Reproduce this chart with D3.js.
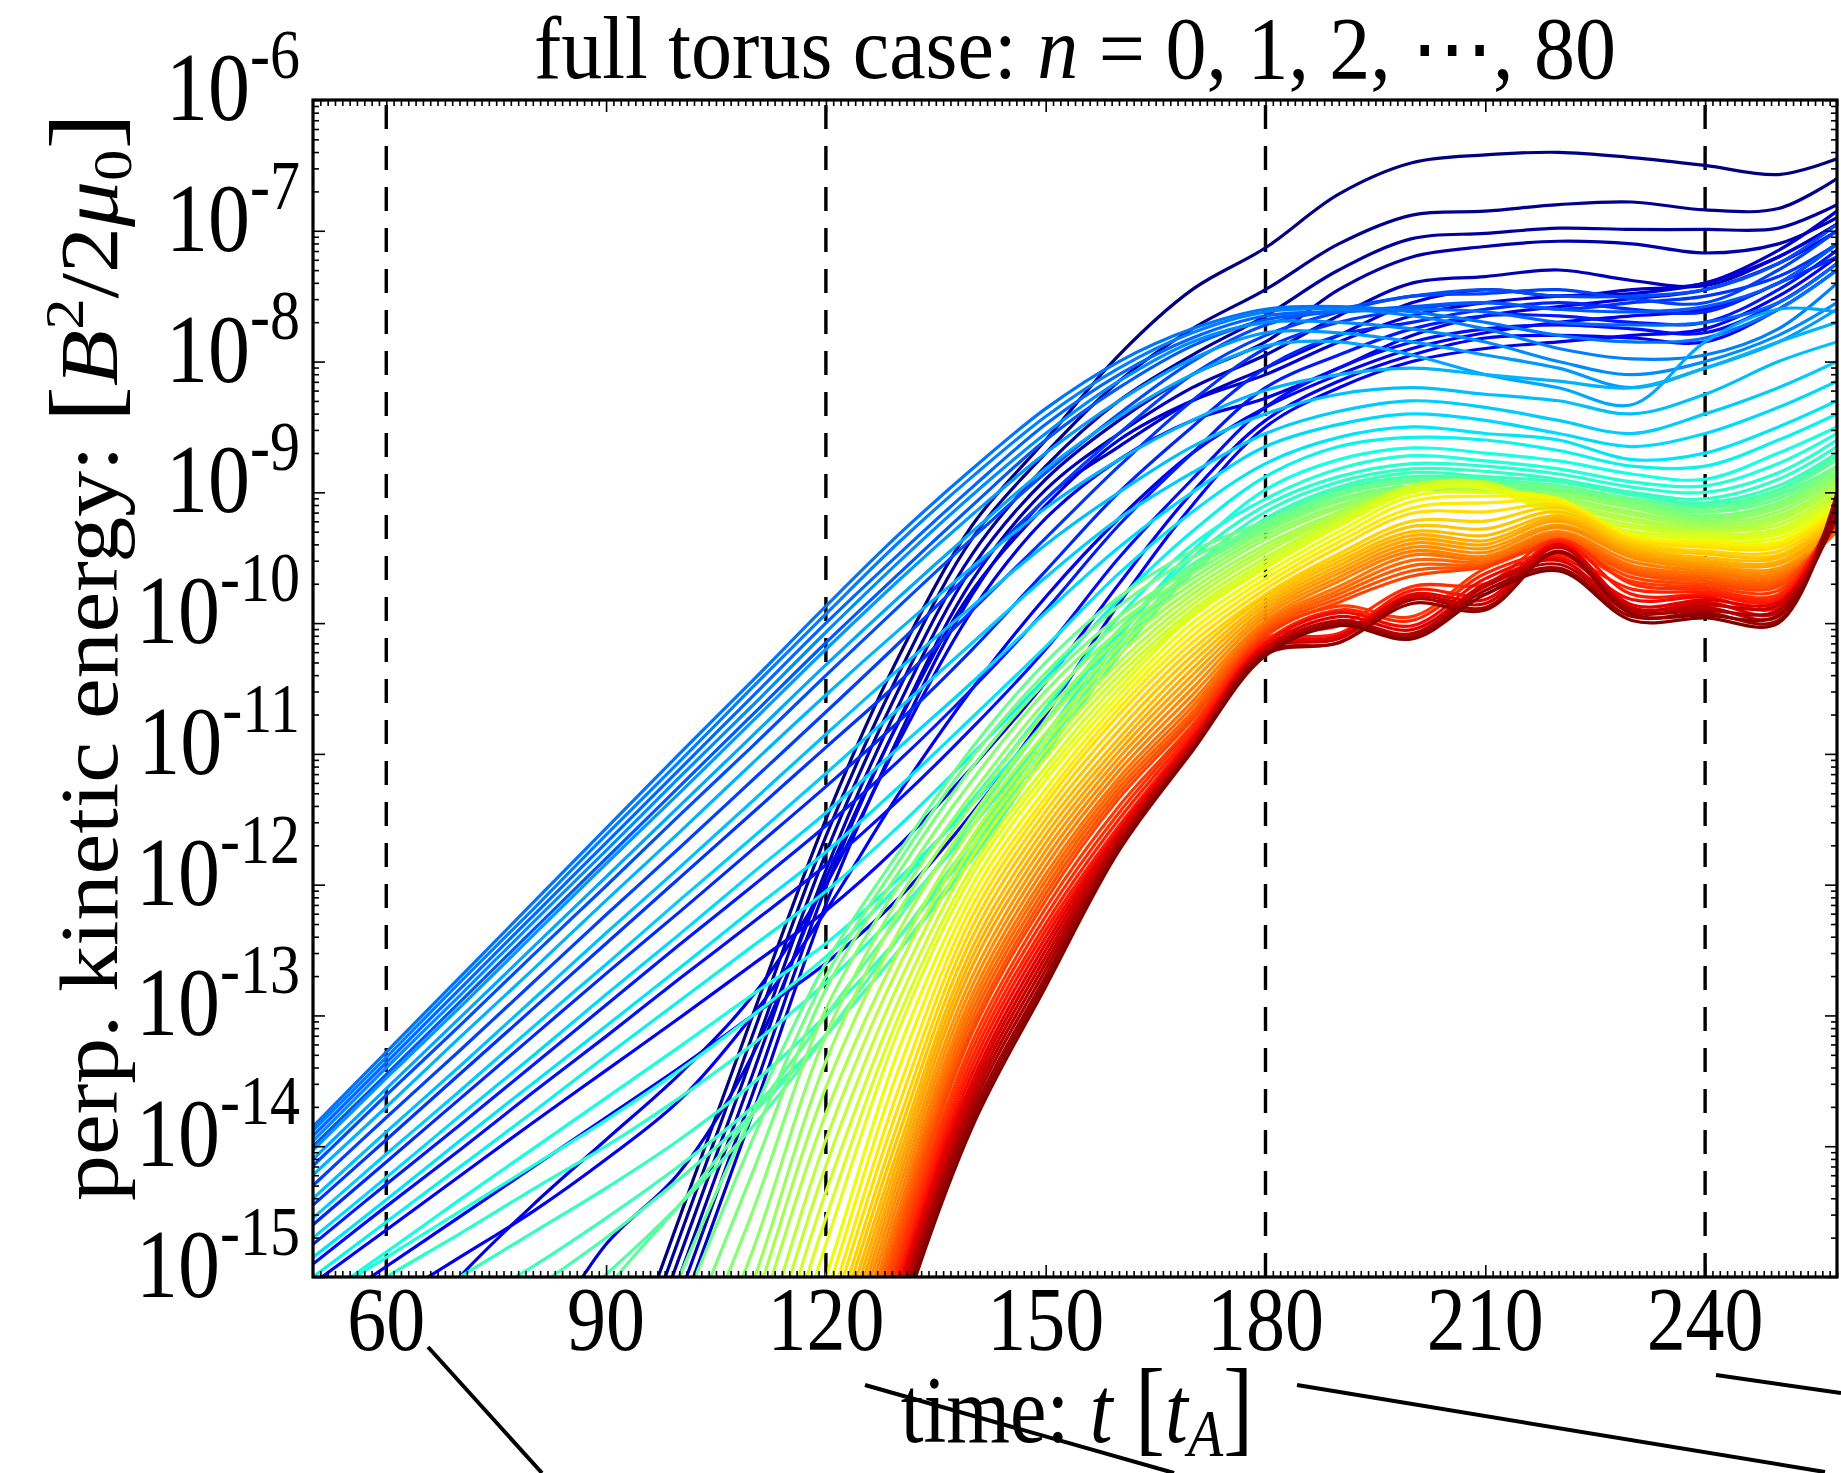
<!DOCTYPE html>
<html>
<head>
<meta charset="utf-8">
<script src="https://cdn.jsdelivr.net/npm/d3@7"></script>
<style>
  body { margin: 0; background: #fff; }
  text { font-family: "Liberation Serif", "Times New Roman", serif; fill: #000; }
</style>
</head>
<body>
<div id="chart"></div>
<script>
// sample times [t_A]; each mode below gives log10(energy) at these times (null = far below the axis)
var times = [50, 60, 70, 80, 90, 100, 110, 120, 130, 140, 150, 160, 170, 180, 190, 200, 210, 220, 230, 240, 250, 258];

// n = 0..7 : low-n modes, driven late, steep rise
var navyModes = [
  [null,null,null,-17.65,-16.1,-14.55,-13.0,-11.5,-10.25,-9.25,-8.6,-7.95,-7.45,-7.13,-6.72,-6.48,-6.42,-6.4,-6.44,-6.5,-6.57,-6.45],
  [null,null,null,-17.8,-16.25,-14.7,-13.15,-11.63,-10.38,-9.35,-8.7,-8.15,-7.75,-7.45,-7.1,-6.88,-6.85,-6.8,-6.78,-6.84,-6.83,-6.6],
  [null,null,null,-17.95,-16.4,-14.85,-13.3,-11.76,-10.5,-9.47,-8.8,-8.3,-7.95,-7.65,-7.3,-7.06,-7.02,-6.98,-6.99,-6.99,-6.98,-6.8],
  [null,null,null,-18.1,-16.55,-15.0,-13.45,-11.89,-10.62,-9.57,-8.9,-8.45,-8.1,-7.85,-7.45,-7.2,-7.12,-7.08,-7.1,-7.17,-7.1,-6.9],
  [null,null,null,-18.25,-16.7,-15.15,-13.6,-12.02,-10.74,-9.67,-8.98,-8.55,-8.2,-7.95,-7.65,-7.4,-7.35,-7.3,-7.38,-7.42,-7.2,-6.95],
  [null,null,null,-18.4,-16.85,-15.3,-13.75,-12.15,-10.86,-9.78,-9.05,-8.65,-8.3,-8.05,-7.8,-7.55,-7.45,-7.5,-7.45,-7.4,-7.15,-6.85],
  [null,-17.2,-16.4,-15.6,-14.75,-14.2,-13.3,-11.95,-10.75,-9.75,-9.1,-8.6,-8.3,-8.1,-7.85,-7.65,-7.55,-7.5,-7.48,-7.4,-7.2,-6.95],
  [-16.2,-15.65,-15.0,-14.45,-13.95,-13.45,-12.85,-12.0,-10.9,-9.9,-9.2,-8.75,-8.45,-8.28,-8.05,-7.8,-7.65,-7.58,-7.52,-7.45,-7.25,-7.0]
];

// n = 8..16
var blueModes = [
  [-15.55,-15.2,-14.85,-14.5,-14.1,-13.65,-13.0,-12.2,-11.3,-10.5,-9.8,-9.2,-8.7,-8.35,-8.1,-7.9,-7.78,-7.7,-7.65,-7.6,-7.4,-7.1],
  [-15.3,-14.92,-14.54,-14.16,-13.78,-13.4,-13.0,-12.6,-12.1,-11.45,-10.7,-9.85,-9.1,-8.5,-8.2,-8.0,-7.9,-7.85,-7.8,-7.75,-7.5,-7.2],
  [-15.05,-14.64,-14.23,-13.82,-13.42,-13.02,-12.61,-12.2,-11.7,-11.1,-10.45,-9.7,-9.0,-8.45,-8.15,-7.95,-7.82,-7.8,-7.82,-7.85,-7.6,-7.3],
  [-14.9,-14.46,-14.03,-13.59,-13.16,-12.72,-12.29,-11.85,-11.35,-10.8,-10.2,-9.5,-8.9,-8.35,-8.05,-7.85,-7.75,-7.72,-7.75,-7.78,-7.55,-7.25],
  [-14.75,-14.29,-13.84,-13.38,-12.92,-12.46,-12.01,-11.55,-11.05,-10.5,-9.9,-9.25,-8.7,-8.2,-7.95,-7.75,-7.65,-7.65,-7.7,-7.7,-7.45,-7.15],
  [-14.6,-14.12,-13.64,-13.16,-12.68,-12.21,-11.73,-11.25,-10.75,-10.2,-9.6,-9.0,-8.5,-8.05,-7.8,-7.7,-7.6,-7.55,-7.6,-7.62,-7.4,-7.2],
  [-14.45,-13.95,-13.45,-12.95,-12.45,-11.95,-11.45,-10.95,-10.45,-9.9,-9.35,-8.8,-8.3,-7.9,-7.7,-7.6,-7.55,-7.6,-7.55,-7.5,-7.35,-7.1],
  [-14.3,-13.78,-13.27,-12.75,-12.23,-11.72,-11.2,-10.68,-10.15,-9.6,-9.05,-8.55,-8.1,-7.8,-7.62,-7.5,-7.48,-7.45,-7.52,-7.55,-7.3,-7.0],
  [-14.15,-13.61,-13.08,-12.54,-12.01,-11.47,-10.94,-10.4,-9.87,-9.35,-8.85,-8.4,-8.0,-7.72,-7.6,-7.5,-7.45,-7.5,-7.5,-7.45,-7.25,-6.95]
];

// n = 17..23 : fastest linear growth
var azureModes = [
  [-14.0,-13.45,-12.9,-12.35,-11.8,-11.25,-10.7,-10.15,-9.62,-9.1,-8.6,-8.2,-7.88,-7.68,-7.62,-7.58,-7.55,-7.6,-7.62,-7.58,-7.4,-7.1],
  [-13.92,-13.36,-12.8,-12.24,-11.68,-11.12,-10.56,-10.0,-9.47,-8.96,-8.48,-8.1,-7.82,-7.65,-7.62,-7.6,-7.62,-7.7,-7.72,-7.7,-7.55,-7.25],
  [-13.85,-13.28,-12.71,-12.14,-11.57,-11.0,-10.44,-9.87,-9.32,-8.82,-8.36,-8.0,-7.75,-7.6,-7.58,-7.62,-7.7,-7.8,-7.85,-7.82,-7.6,-7.3],
  [-13.88,-13.32,-12.75,-12.19,-11.62,-11.06,-10.49,-9.93,-9.38,-8.88,-8.42,-8.05,-7.78,-7.62,-7.6,-7.65,-7.75,-7.9,-7.98,-7.95,-7.75,-7.4],
  [-13.96,-13.4,-12.85,-12.29,-11.74,-11.18,-10.63,-10.07,-9.53,-9.02,-8.55,-8.15,-7.85,-7.7,-7.7,-7.75,-7.85,-8.0,-8.1,-8.0,-7.8,-7.55],
  [-14.03,-13.48,-12.94,-12.39,-11.84,-11.3,-10.75,-10.2,-9.67,-9.17,-8.7,-8.3,-7.98,-7.78,-7.78,-7.85,-7.95,-8.05,-8.2,-8.05,-7.85,-7.6],
  [-14.1,-13.56,-13.02,-12.48,-11.94,-11.4,-10.86,-10.32,-9.8,-9.3,-8.82,-8.42,-8.1,-7.88,-7.85,-7.95,-8.1,-8.2,-8.33,-7.85,-7.6,-7.62]
];

// n = 24..37
var cyanModes = [
  [-14.22,-13.7,-13.17,-12.65,-12.12,-11.6,-11.07,-10.55,-10.05,-9.57,-9.12,-8.75,-8.45,-8.22,-8.1,-8.05,-8.1,-8.15,-8.2,-8.05,-7.85,-7.7],
  [-14.4,-13.89,-13.39,-12.88,-12.37,-11.87,-11.36,-10.85,-10.35,-9.87,-9.4,-9.0,-8.65,-8.4,-8.25,-8.2,-8.25,-8.3,-8.4,-8.25,-8.0,-7.85],
  [-14.55,-14.06,-13.58,-13.09,-12.61,-12.12,-11.64,-11.15,-10.65,-10.15,-9.65,-9.2,-8.85,-8.55,-8.38,-8.3,-8.35,-8.45,-8.55,-8.4,-8.2,-8.0],
  [-14.7,-14.24,-13.77,-13.31,-12.84,-12.38,-11.91,-11.45,-10.95,-10.45,-9.92,-9.42,-9.0,-8.65,-8.48,-8.4,-8.45,-8.55,-8.65,-8.55,-8.35,-8.15],
  [-14.85,-14.41,-13.96,-13.52,-13.08,-12.64,-12.19,-11.75,-11.25,-10.72,-10.18,-9.62,-9.15,-8.78,-8.58,-8.5,-8.55,-8.6,-8.75,-8.7,-8.5,-8.3],
  [-15.0,-14.58,-14.16,-13.74,-13.31,-12.89,-12.47,-12.05,-11.55,-11.0,-10.42,-9.82,-9.3,-8.88,-8.65,-8.58,-8.6,-8.68,-8.8,-8.8,-8.6,-8.4],
  [-15.2,-14.81,-14.41,-14.02,-13.63,-13.24,-12.84,-12.45,-11.95,-11.38,-10.75,-10.08,-9.45,-8.98,-8.75,-8.66,-8.7,-8.76,-8.86,-8.9,-8.7,-8.5],
  [-15.2,-14.85,-14.5,-14.15,-13.8,-13.42,-13.0,-12.55,-12.0,-11.35,-10.65,-9.95,-9.4,-9.05,-8.82,-8.72,-8.76,-8.82,-8.92,-8.95,-8.78,-8.55],
  [-15.35,-15.0,-14.67,-14.33,-14.0,-13.63,-13.22,-12.75,-12.2,-11.55,-10.85,-10.1,-9.5,-9.1,-8.88,-8.78,-8.8,-8.86,-8.96,-9.0,-8.85,-8.6],
  [-15.65,-15.32,-15.0,-14.66,-14.32,-13.95,-13.52,-13.0,-12.4,-11.7,-10.95,-10.2,-9.58,-9.15,-8.92,-8.82,-8.84,-8.9,-9.0,-9.05,-8.9,-8.65],
  [-15.95,-15.6,-15.25,-14.92,-14.55,-14.15,-13.7,-13.15,-12.5,-11.8,-11.0,-10.25,-9.62,-9.2,-8.96,-8.85,-8.88,-8.92,-9.02,-9.08,-8.95,-8.7],
  [-16.2,-15.85,-15.5,-15.1,-14.7,-14.25,-13.75,-13.15,-12.5,-11.75,-10.95,-10.2,-9.6,-9.22,-8.98,-8.88,-8.9,-8.95,-9.05,-9.1,-8.98,-8.72],
  [-16.8,-16.4,-15.95,-15.45,-14.98,-14.45,-13.85,-13.15,-12.4,-11.65,-10.9,-10.15,-9.58,-9.24,-9.0,-8.9,-8.93,-8.98,-9.06,-9.12,-9.0,-8.75],
  [null,null,-16.6,-16.0,-15.1,-14.45,-13.75,-13.0,-12.25,-11.5,-10.75,-10.05,-9.55,-9.26,-9.02,-8.92,-8.95,-9.0,-9.08,-9.15,-9.02,-8.8]
];

// n = 38..50
var greenModes = [
  [null,null,null,-17.8,-16.4,-15.0,-13.75,-12.6,-11.75,-10.95,-10.3,-9.8,-9.45,-9.22,-9.0,-8.9,-8.92,-8.95,-9.05,-9.12,-9.0,-8.75],
  [null,null,null,-18.1,-16.7,-15.3,-13.95,-12.7,-11.82,-11.02,-10.38,-9.87,-9.5,-9.25,-9.02,-8.92,-8.95,-8.97,-9.06,-9.15,-9.05,-8.8],
  [null,null,null,null,-17.0,-15.6,-14.2,-12.8,-11.9,-11.1,-10.45,-9.95,-9.58,-9.28,-9.05,-8.95,-8.98,-9.0,-9.08,-9.18,-9.08,-8.82],
  [null,null,null,null,-17.3,-15.9,-14.5,-12.95,-12.0,-11.2,-10.52,-10.0,-9.62,-9.3,-9.07,-8.97,-9.0,-9.0,-9.1,-9.2,-9.1,-8.85],
  [null,null,null,null,-17.6,-16.2,-14.8,-13.15,-12.1,-11.3,-10.6,-10.06,-9.66,-9.33,-9.1,-8.98,-9.0,-9.02,-9.12,-9.22,-9.12,-8.88],
  [null,null,null,null,-17.9,-16.5,-15.05,-13.35,-12.2,-11.38,-10.68,-10.12,-9.7,-9.36,-9.12,-8.98,-8.98,-9.04,-9.15,-9.24,-9.15,-8.9],
  [null,null,null,null,null,-16.8,-15.25,-13.55,-12.35,-11.47,-10.76,-10.18,-9.74,-9.4,-9.15,-8.97,-8.96,-9.06,-9.17,-9.26,-9.18,-8.93],
  [null,null,null,null,null,-17.0,-15.45,-13.75,-12.5,-11.55,-10.84,-10.24,-9.78,-9.43,-9.17,-8.96,-8.94,-9.08,-9.2,-9.28,-9.2,-8.95],
  [null,null,null,null,null,-17.2,-15.7,-13.95,-12.62,-11.63,-10.9,-10.3,-9.82,-9.46,-9.18,-8.95,-8.93,-9.1,-9.22,-9.3,-9.22,-8.97],
  [null,null,null,null,null,-17.4,-15.9,-14.15,-12.75,-11.7,-10.97,-10.35,-9.86,-9.5,-9.2,-8.95,-8.92,-9.12,-9.25,-9.3,-9.25,-9.0],
  [null,null,null,null,null,-17.6,-16.1,-14.35,-12.88,-11.78,-11.03,-10.4,-9.9,-9.53,-9.22,-8.96,-8.93,-9.15,-9.27,-9.32,-9.28,-9.02],
  [null,null,null,null,null,-17.8,-16.3,-14.55,-13.0,-11.86,-11.1,-10.45,-9.93,-9.56,-9.24,-8.98,-8.95,-9.16,-9.3,-9.33,-9.3,-9.05],
  [null,null,null,null,null,-18.0,-16.5,-14.75,-13.1,-11.92,-11.15,-10.5,-9.95,-9.58,-9.26,-9.0,-8.97,-9.18,-9.32,-9.35,-9.32,-9.08]
];

// n = 51..67
var orangeModes = [
  [null,null,null,null,null,null,-16.65,-15.0,-13.25,-12.0,-11.2,-10.55,-10.0,-9.62,-9.3,-9.03,-9.0,-9.05,-9.34,-9.37,-9.35,-9.1],
  [null,null,null,null,null,null,-16.8,-15.15,-13.4,-12.08,-11.27,-10.6,-10.05,-9.66,-9.34,-9.07,-9.03,-9.06,-9.33,-9.38,-9.38,-9.12],
  [null,null,null,null,null,null,-16.95,-15.3,-13.55,-12.16,-11.33,-10.65,-10.1,-9.7,-9.38,-9.12,-9.08,-9.08,-9.35,-9.4,-9.4,-9.14],
  [null,null,null,null,null,null,-17.1,-15.42,-13.68,-12.24,-11.38,-10.7,-10.15,-9.74,-9.42,-9.16,-9.15,-9.1,-9.36,-9.42,-9.42,-9.16],
  [null,null,null,null,null,null,-17.25,-15.55,-13.8,-12.32,-11.44,-10.76,-10.2,-9.78,-9.47,-9.22,-9.22,-9.12,-9.38,-9.45,-9.45,-9.18],
  [null,null,null,null,null,null,-17.4,-15.65,-13.9,-12.4,-11.5,-10.82,-10.25,-9.8,-9.5,-9.26,-9.28,-9.15,-9.4,-9.47,-9.48,-9.2],
  [null,null,null,null,null,null,-17.5,-15.75,-14.0,-12.48,-11.56,-10.88,-10.3,-9.83,-9.53,-9.3,-9.33,-9.18,-9.42,-9.5,-9.5,-9.22],
  [null,null,null,null,null,null,-17.6,-15.85,-14.08,-12.55,-11.62,-10.93,-10.35,-9.86,-9.56,-9.33,-9.37,-9.2,-9.44,-9.52,-9.53,-9.24],
  [null,null,null,null,null,null,-17.7,-15.95,-14.16,-12.62,-11.68,-10.98,-10.4,-9.89,-9.59,-9.36,-9.4,-9.22,-9.46,-9.54,-9.55,-9.26],
  [null,null,null,null,null,null,-17.8,-16.05,-14.24,-12.7,-11.74,-11.03,-10.45,-9.92,-9.62,-9.39,-9.43,-9.25,-9.48,-9.56,-9.58,-9.28],
  [null,null,null,null,null,null,-17.9,-16.15,-14.32,-12.77,-11.8,-11.08,-10.5,-9.95,-9.65,-9.42,-9.46,-9.27,-9.5,-9.58,-9.6,-9.3],
  [null,null,null,null,null,null,-18.0,-16.25,-14.4,-12.84,-11.86,-11.13,-10.55,-9.98,-9.68,-9.45,-9.49,-9.3,-9.53,-9.6,-9.62,-9.3],
  [null,null,null,null,null,null,-18.1,-16.35,-14.48,-12.9,-11.92,-11.18,-10.6,-10.0,-9.72,-9.48,-9.51,-9.32,-9.56,-9.62,-9.64,-9.3],
  [null,null,null,null,null,null,-18.2,-16.45,-14.55,-12.96,-11.97,-11.22,-10.64,-10.02,-9.75,-9.52,-9.53,-9.34,-9.58,-9.64,-9.66,-9.28],
  [null,null,null,null,null,null,-18.3,-16.55,-14.62,-13.02,-12.02,-11.26,-10.68,-10.04,-9.78,-9.56,-9.55,-9.36,-9.6,-9.66,-9.68,-9.26],
  [null,null,null,null,null,null,-18.38,-16.62,-14.68,-13.08,-12.07,-11.3,-10.71,-10.06,-9.81,-9.6,-9.56,-9.38,-9.62,-9.68,-9.7,-9.24],
  [null,null,null,null,null,null,-18.45,-16.7,-14.75,-13.13,-12.12,-11.34,-10.74,-10.08,-9.84,-9.64,-9.57,-9.4,-9.65,-9.7,-9.72,-9.22]
];

// n = 68..80
var redModes = [
  [null,null,null,null,null,null,-18.5,-16.78,-14.82,-13.2,-12.18,-11.4,-10.78,-10.1,-9.87,-9.95,-9.58,-9.42,-9.68,-9.72,-9.75,-9.2],
  [null,null,null,null,null,null,-18.56,-16.84,-14.88,-13.26,-12.24,-11.45,-10.8,-10.12,-10.02,-9.72,-9.7,-9.36,-9.7,-9.74,-9.78,-9.15],
  [null,null,null,null,null,null,-18.62,-16.9,-14.95,-13.32,-12.3,-11.5,-10.83,-10.14,-9.9,-9.98,-9.62,-9.48,-9.74,-9.76,-9.8,-9.12],
  [null,null,null,null,null,null,-18.68,-16.96,-15.0,-13.38,-12.35,-11.55,-10.86,-10.15,-10.08,-9.75,-9.78,-9.38,-9.78,-9.78,-9.82,-9.1],
  [null,null,null,null,null,null,-18.74,-17.02,-15.05,-13.44,-12.4,-11.58,-10.88,-10.16,-9.92,-10.02,-9.66,-9.5,-9.82,-9.8,-9.88,-9.08],
  [null,null,null,null,null,null,-18.8,-17.08,-15.1,-13.5,-12.45,-11.6,-10.9,-10.18,-10.1,-9.78,-9.82,-9.4,-9.86,-9.82,-9.84,-9.15],
  [null,null,null,null,null,null,-18.84,-17.12,-15.14,-13.55,-12.5,-11.62,-10.92,-10.19,-9.95,-10.05,-9.7,-9.52,-9.9,-9.84,-9.92,-9.05],
  [null,null,null,null,null,null,-18.88,-17.16,-15.18,-13.6,-12.55,-11.64,-10.93,-10.2,-10.12,-9.8,-9.85,-9.42,-9.88,-9.86,-9.86,-9.2],
  [null,null,null,null,null,null,-18.92,-17.2,-15.22,-13.65,-12.6,-11.66,-10.94,-10.21,-9.98,-10.08,-9.72,-9.55,-9.92,-9.88,-9.95,-9.02],
  [null,null,null,null,null,null,-18.96,-17.24,-15.26,-13.7,-12.65,-11.68,-10.95,-10.22,-10.15,-9.82,-9.88,-9.45,-9.9,-9.9,-9.9,-9.18],
  [null,null,null,null,null,null,-19.0,-17.28,-15.3,-13.75,-12.7,-11.7,-10.96,-10.23,-10.0,-10.1,-9.75,-9.58,-9.95,-9.92,-9.98,-9.0],
  [null,null,null,null,null,null,-19.04,-17.32,-15.34,-13.8,-12.74,-11.72,-10.97,-10.24,-10.15,-9.85,-9.9,-9.46,-9.93,-9.94,-9.94,-9.15],
  [null,null,null,null,null,null,-19.08,-17.36,-15.38,-13.85,-12.78,-11.74,-10.98,-10.25,-10.02,-10.12,-9.78,-9.6,-9.98,-9.96,-10.0,-9.05]
];

var xTicks = [60, 90, 120, 150, 180, 210, 240];
var yDecades = [-15, -14, -13, -12, -11, -10, -9, -8, -7, -6];
var markerTimes = [60, 120, 180, 240];
// zoom-connector strokes that run across the bottom of the figure (page pixels)
var connectorLines = [[428, 1347, 542, 1473], [865, 1385, 1174, 1473], [1297, 1385, 1825, 1472], [1716, 1375, 1841, 1393]];

var allModes = [].concat(navyModes, blueModes, azureModes, cyanModes, greenModes, orangeModes, redModes);

var margin = { top: 100, right: 4, bottom: 196, left: 313 },
    width = 1841 - margin.left - margin.right,
    height = 1473 - margin.top - margin.bottom,
    stretch = 1.17;   // the source figure is taller than it is wide

var x = d3.scaleLinear().domain([50, 258]).range([0, width]);
var y = d3.scaleLog().domain([1e-15, 1e-6]).range([height, 0]);

// matplotlib "jet"
var jetR = d3.scaleLinear().domain([0, 0.35, 0.66, 0.89, 1]).range([0, 0, 1, 1, 0.5]).clamp(true);
var jetG = d3.scaleLinear().domain([0, 0.125, 0.375, 0.64, 0.91, 1]).range([0, 0, 1, 1, 0, 0]).clamp(true);
var jetB = d3.scaleLinear().domain([0, 0.11, 0.34, 0.65, 1]).range([0.5, 1, 1, 0, 0]).clamp(true);
function jet(f) { return d3.rgb(255 * jetR(f), 255 * jetG(f), 255 * jetB(f)).toString(); }

var svg = d3.select("#chart").append("svg")
    .attr("width", 1841)
    .attr("height", 1473)
    .style("display", "block");

var g = svg.append("g").attr("transform", "translate(" + margin.left + "," + margin.top + ")");

g.append("clipPath").attr("id", "plot-clip")
  .append("rect").attr("width", width).attr("height", height);

// dashed time markers
g.selectAll(".marker").data(markerTimes).enter().append("line")
    .attr("class", "marker")
    .attr("x1", function(d) { return x(d); })
    .attr("x2", function(d) { return x(d); })
    .attr("y1", height).attr("y2", 0)
    .attr("stroke", "#000").attr("stroke-width", 3.4)
    .attr("stroke-dasharray", "24,17");

var line = d3.line()
    .defined(function(d) { return d != null; })
    .x(function(d, i) { return x(times[i]); })
    .y(function(d) { return y(Math.pow(10, d)); })
    .curve(d3.curveCatmullRom.alpha(0.5));

g.append("g").attr("clip-path", "url(#plot-clip)")
  .selectAll("path").data(allModes).enter().append("path")
    .attr("d", line)
    .attr("fill", "none")
    .attr("stroke", function(d, i) { return jet(i / 80); })
    .attr("stroke-width", 3.2)
    .attr("stroke-linejoin", "round");

function tidy(sel) {
  sel.select(".domain").remove();
  sel.attr("font-family", null).attr("font-size", null);
  sel.selectAll("line").attr("stroke-width", 1.6);
}

var minorX = d3.range(51, 259).filter(function(t) { return t % 30 !== 0; });
g.append("g").attr("transform", "translate(0," + height + ")")
  .call(d3.axisBottom(x).tickValues(minorX).tickSize(-6).tickFormat("")).call(tidy);
g.append("g")
  .call(d3.axisTop(x).tickValues(minorX).tickSize(-6).tickFormat("")).call(tidy);
g.append("g")
  .call(d3.axisTop(x).tickValues(xTicks).tickSize(-12).tickFormat("")).call(tidy);
g.append("g").attr("transform", "translate(0," + height + ")")
  .call(d3.axisBottom(x).tickValues(xTicks).tickSize(-12).tickFormat("")).call(tidy);

g.append("g").selectAll("text").data(xTicks).enter().append("text")
    .attr("transform", function(d) { return "translate(" + x(d) + "," + (height + 73) + ") scale(1," + stretch + ")"; })
    .attr("text-anchor", "middle")
    .attr("font-size", 78)
    .text(function(d) { return d; });

var minorY = [];
yDecades.forEach(function(k) {
  if (k < -6) for (var m = 2; m <= 9; m++) minorY.push(m * Math.pow(10, k));
});
var majorY = yDecades.map(function(k) { return Math.pow(10, k); });
g.append("g").call(d3.axisLeft(y).tickValues(minorY).tickSize(-6).tickFormat("")).call(tidy);
g.append("g").attr("transform", "translate(" + width + ",0)")
  .call(d3.axisRight(y).tickValues(minorY).tickSize(-6).tickFormat("")).call(tidy);
g.append("g").call(d3.axisLeft(y).tickValues(majorY).tickSize(-12).tickFormat("")).call(tidy);
g.append("g").attr("transform", "translate(" + width + ",0)")
  .call(d3.axisRight(y).tickValues(majorY).tickSize(-12).tickFormat("")).call(tidy);

var yLabels = g.append("g").selectAll("text").data(yDecades).enter().append("text")
    .attr("transform", function(d) { return "translate(-13," + (y(Math.pow(10, d)) + 20) + ") scale(1," + stretch + ")"; })
    .attr("text-anchor", "end");
yLabels.append("tspan").attr("font-size", 84).text("10");
yLabels.append("tspan").attr("font-size", 60).attr("dy", -36).text(function(d) { return "-" + (-d); });

g.append("rect")
    .attr("width", width).attr("height", height)
    .attr("fill", "none").attr("stroke", "#000").attr("stroke-width", 3.2);

// title
var title = svg.append("text")
    .attr("transform", "translate(" + (margin.left + width / 2) + ",78) scale(1,1.08)")
    .attr("text-anchor", "middle").attr("font-size", 82);
title.append("tspan").text("full torus case: ");
title.append("tspan").attr("font-style", "italic").text("n");
title.append("tspan").text(" = 0, 1, 2, \u22EF, 80");

// axis labels
var xLabel = svg.append("text")
    .attr("transform", "translate(" + (margin.left + width / 2 + 2) + ",1442) scale(1," + stretch + ")")
    .attr("text-anchor", "middle").attr("font-size", 82);
xLabel.append("tspan").text("time: ");
xLabel.append("tspan").attr("font-style", "italic").text("t");
xLabel.append("tspan").attr("font-size", 90).text(" [");
xLabel.append("tspan").attr("font-style", "italic").text("t");
xLabel.append("tspan").attr("font-style", "italic").attr("font-size", 58).attr("dy", 12).text("A");
xLabel.append("tspan").attr("font-size", 90).attr("dy", -12).text("]");

var yLabel = svg.append("text")
    .attr("transform", "translate(117,657) rotate(-90) scale(1.12,1)")
    .attr("text-anchor", "middle").attr("font-size", 82);
yLabel.append("tspan").text("perp. kinetic energy: ");
yLabel.append("tspan").attr("font-size", 98).text("[");
yLabel.append("tspan").attr("font-style", "italic").text("B");
yLabel.append("tspan").attr("font-size", 56).attr("dy", -34).text("2");
yLabel.append("tspan").attr("dy", 34).text("/2");
yLabel.append("tspan").attr("font-style", "italic").text("\u03BC");
yLabel.append("tspan").attr("font-size", 56).attr("dy", 14).text("0");
yLabel.append("tspan").attr("font-size", 98).attr("dy", -14).text("]");

svg.append("g").selectAll("line").data(connectorLines).enter().append("line")
    .attr("x1", function(d) { return d[0]; }).attr("y1", function(d) { return d[1]; })
    .attr("x2", function(d) { return d[2]; }).attr("y2", function(d) { return d[3]; })
    .attr("stroke", "#000").attr("stroke-width", 4);
</script>
</body>
</html>
